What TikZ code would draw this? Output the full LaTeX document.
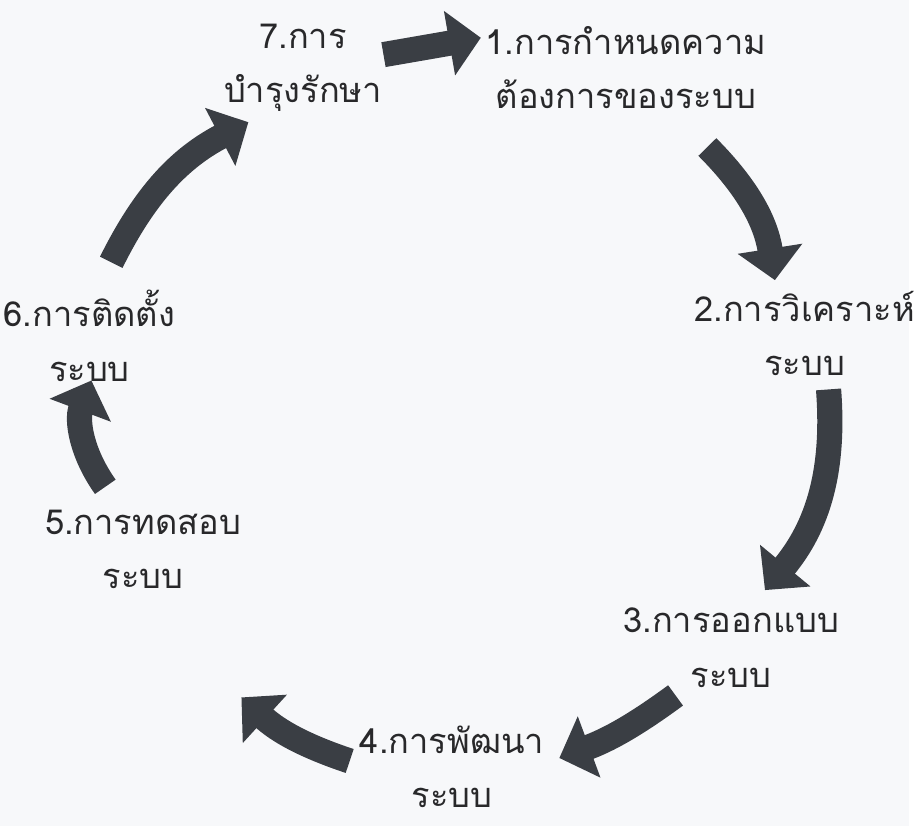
\documentclass[tikz,border=0pt]{standalone}
\usepackage{fontspec}
\newfontfamily\thaifont[Script=Thai]{Loma}
\usetikzlibrary{arrows.meta}
\definecolor{arrowgray}{RGB}{58,62,68}
\definecolor{paper}{RGB}{247,248,250}
\definecolor{inkgray}{RGB}{40,40,42}
\begin{document}
\begin{tikzpicture}[
	x=0.75pt, y=-0.75pt,
	stage/.style={ align=center, inner sep=0pt, text=inkgray, font=\thaifont\fontsize{26}{41}\selectfont },
	cyclearrow/.style={ arrowgray, line width=19pt, -{Triangle[length=24pt,width=48pt]} }
]

\fill[paper] (0,0) rectangle (915,831);

\node at (305,68) (seven) [stage] {7.การ\\บำรุงรักษา};
\node at (630,68) (one) [stage] {1.การกำหนดความ\\ต้องการของระบบ};
\node at (810,336) (two) [stage] {2.การวิเคราะห์\\ระบบ};
\node at (736,652) (three) [stage] {3.การออกแบบ\\ระบบ};
\node at (455,772) (four) [stage] {4.การพัฒนา\\ระบบ};
\node at (144,553) (five) [stage] {5.การทดสอบ\\ระบบ};
\node at (90,338) (six) [stage] {6.การติดตั้ง\\ระบบ};

% arrow ends
\coordinate (a71) at (386,55);  \coordinate (b71) at (484,38);
\coordinate (a12) at (712,148); \coordinate (b12) at (780,282);
\coordinate (a23) at (834,392); \coordinate (b23) at (770,594);
\coordinate (a34) at (680,700); \coordinate (b34) at (563,763);
\coordinate (a45) at (352,766); \coordinate (b45) at (243,702);
\coordinate (a56) at (106,490); \coordinate (b56) at (92,383);
\coordinate (a67) at (112,264); \coordinate (b67) at (250,123);

\draw[cyclearrow] (a71) to (b71);
\draw[cyclearrow] (a12) to[bend left=18] (b12);
\draw[cyclearrow] (a23) to[bend left=22] (b23);
\draw[cyclearrow] (a34) to[bend left=8] (b34);
\draw[cyclearrow] (a45) to[bend left=12] (b45);
\draw[cyclearrow] (a56) to[bend left=28] (b56);
\draw[cyclearrow] (a67) to[bend left=18] (b67);

\end{tikzpicture}
\end{document}
